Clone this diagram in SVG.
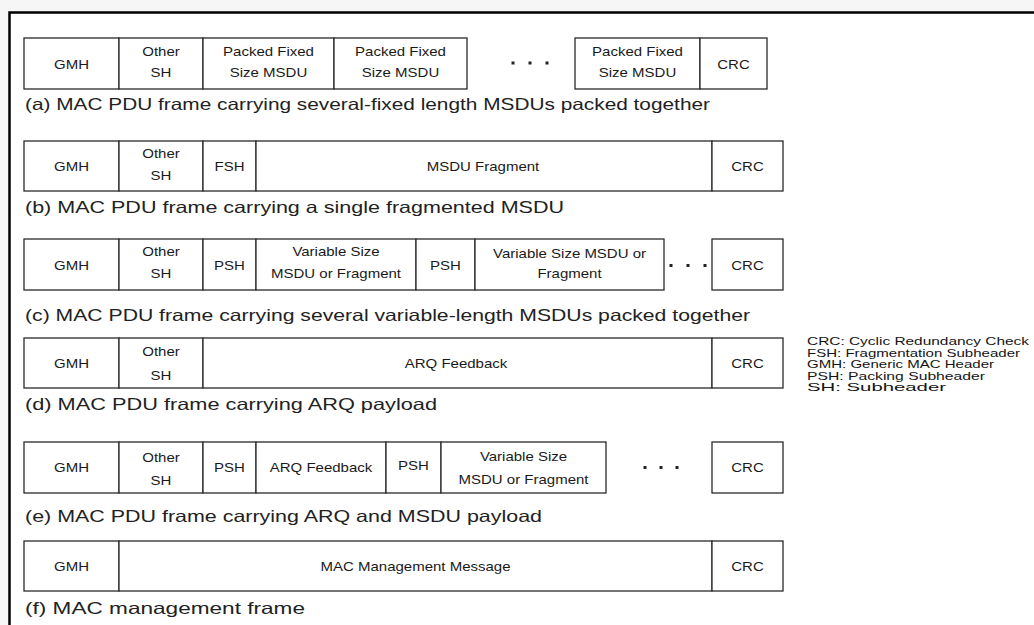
<svg xmlns="http://www.w3.org/2000/svg" width="1034" height="625" viewBox="0 0 1034 625">
  <style>
    .cell { fill: #ffffff; stroke: #2a2a2a; stroke-width: 1.3; }
    .lbl { font-family: "Liberation Sans", Arial, sans-serif; font-size: 12.5px; fill: #1a1a1a; text-anchor: middle; }
    .cap { font-family: "Liberation Sans", Arial, sans-serif; font-size: 16.5px; fill: #222222; }
    .key { font-family: "Liberation Sans", Arial, sans-serif; font-size: 11px; fill: #151515; }
    .dot { fill: #222222; }
  </style>

  <!-- page and frame -->
  <rect x="0" y="0" width="1034" height="625" fill="#f6f6f6"/>
  <rect x="9.5" y="12.5" width="1025" height="613" fill="#ffffff"/>
  <path d="M9.5,625 V12.5 H1034" fill="none" stroke="#000000" stroke-width="2.5"/>

  <!-- (a) fixed-length MSDUs packed together -->
  <g id="frame-a">
    <rect class="cell" x="24" y="38" width="95" height="51"/>
    <rect class="cell" x="119" y="38" width="84" height="51"/>
    <rect class="cell" x="203" y="38" width="131" height="51"/>
    <rect class="cell" x="334" y="38" width="133" height="51"/>
    <rect class="cell" x="575" y="38" width="125" height="51"/>
    <rect class="cell" x="700" y="38" width="67" height="51"/>
    <text class="lbl" transform="translate(71.5,68.5) scale(1.2,1)">GMH</text>
    <text class="lbl" transform="translate(161,55.5) scale(1.2,1)">Other</text>
    <text class="lbl" transform="translate(161,77) scale(1.2,1)">SH</text>
    <text class="lbl" transform="translate(268.5,55.5) scale(1.2,1)">Packed Fixed</text>
    <text class="lbl" transform="translate(268.5,77) scale(1.2,1)">Size MSDU</text>
    <text class="lbl" transform="translate(400.5,55.5) scale(1.2,1)">Packed Fixed</text>
    <text class="lbl" transform="translate(400.5,77) scale(1.2,1)">Size MSDU</text>
    <rect class="dot" x="511.5" y="61.5" width="3" height="3"/>
    <rect class="dot" x="528.5" y="61.5" width="3" height="3"/>
    <rect class="dot" x="545.5" y="61.5" width="3" height="3"/>
    <text class="lbl" transform="translate(637.5,55.5) scale(1.2,1)">Packed Fixed</text>
    <text class="lbl" transform="translate(637.5,77) scale(1.2,1)">Size MSDU</text>
    <text class="lbl" transform="translate(733.5,68.5) scale(1.2,1)">CRC</text>
    <text class="cap" x="25" y="110" textLength="685" lengthAdjust="spacingAndGlyphs">(a) MAC  PDU frame carrying several-fixed length MSDUs packed together</text>
  </g>

  <!-- (b) single fragmented MSDU -->
  <g id="frame-b">
    <rect class="cell" x="24" y="141" width="95" height="50"/>
    <rect class="cell" x="119" y="141" width="84" height="50"/>
    <rect class="cell" x="203" y="141" width="53" height="50"/>
    <rect class="cell" x="256" y="141" width="456" height="50"/>
    <rect class="cell" x="712" y="141" width="71" height="50"/>
    <text class="lbl" transform="translate(71.5,171) scale(1.2,1)">GMH</text>
    <text class="lbl" transform="translate(161,158) scale(1.2,1)">Other</text>
    <text class="lbl" transform="translate(161,180) scale(1.2,1)">SH</text>
    <text class="lbl" transform="translate(229.5,171) scale(1.2,1)">FSH</text>
    <text class="lbl" transform="translate(483,171) scale(1.2,1)">MSDU Fragment</text>
    <text class="lbl" transform="translate(747.5,171) scale(1.2,1)">CRC</text>
    <text class="cap" x="25" y="212.5" textLength="539" lengthAdjust="spacingAndGlyphs">(b) MAC PDU frame carrying a single fragmented MSDU</text>
  </g>

  <!-- (c) variable-length MSDUs packed together -->
  <g id="frame-c">
    <rect class="cell" x="24" y="239" width="95" height="51"/>
    <rect class="cell" x="119" y="239" width="84" height="51"/>
    <rect class="cell" x="203" y="239" width="53" height="51"/>
    <rect class="cell" x="256" y="239" width="160" height="51"/>
    <rect class="cell" x="416" y="239" width="59" height="51"/>
    <rect class="cell" x="475" y="239" width="189" height="51"/>
    <rect class="cell" x="712" y="239" width="71" height="51"/>
    <text class="lbl" transform="translate(71.5,269.5) scale(1.2,1)">GMH</text>
    <text class="lbl" transform="translate(161,256) scale(1.2,1)">Other</text>
    <text class="lbl" transform="translate(161,278) scale(1.2,1)">SH</text>
    <text class="lbl" transform="translate(229.5,269.5) scale(1.2,1)">PSH</text>
    <text class="lbl" transform="translate(336,256) scale(1.2,1)">Variable Size</text>
    <text class="lbl" transform="translate(336,278) scale(1.2,1)">MSDU or Fragment</text>
    <text class="lbl" transform="translate(445.5,269.5) scale(1.2,1)">PSH</text>
    <text class="lbl" transform="translate(569.5,258) scale(1.2,1)">Variable Size MSDU or</text>
    <text class="lbl" transform="translate(569.5,278) scale(1.2,1)">Fragment</text>
    <rect class="dot" x="669.5" y="264" width="3" height="3"/>
    <rect class="dot" x="686.5" y="264" width="3" height="3"/>
    <rect class="dot" x="703.5" y="264" width="3" height="3"/>
    <text class="lbl" transform="translate(747.5,269.5) scale(1.2,1)">CRC</text>
    <text class="cap" x="25" y="321" textLength="725" lengthAdjust="spacingAndGlyphs">(c) MAC PDU frame carrying several variable-length MSDUs packed together</text>
  </g>

  <!-- (d) ARQ payload -->
  <g id="frame-d">
    <rect class="cell" x="24" y="338" width="95" height="50"/>
    <rect class="cell" x="119" y="338" width="84" height="50"/>
    <rect class="cell" x="203" y="338" width="509" height="50"/>
    <rect class="cell" x="712" y="338" width="71" height="50"/>
    <text class="lbl" transform="translate(71.5,368) scale(1.2,1)">GMH</text>
    <text class="lbl" transform="translate(161,356) scale(1.2,1)">Other</text>
    <text class="lbl" transform="translate(161,380) scale(1.2,1)">SH</text>
    <text class="lbl" transform="translate(456,368) scale(1.2,1)">ARQ Feedback</text>
    <text class="lbl" transform="translate(747.5,368) scale(1.2,1)">CRC</text>
    <text class="cap" x="25" y="410" textLength="412" lengthAdjust="spacingAndGlyphs">(d) MAC PDU frame carrying ARQ payload</text>
  </g>

  <!-- (e) ARQ and MSDU payload -->
  <g id="frame-e">
    <rect class="cell" x="24" y="442" width="95" height="51"/>
    <rect class="cell" x="119" y="442" width="84" height="51"/>
    <rect class="cell" x="203" y="442" width="53" height="51"/>
    <rect class="cell" x="256" y="442" width="130" height="51"/>
    <rect class="cell" x="386" y="442" width="55" height="51"/>
    <rect class="cell" x="441" y="442" width="165" height="51"/>
    <rect class="cell" x="712" y="442" width="71" height="51"/>
    <text class="lbl" transform="translate(71.5,472) scale(1.2,1)">GMH</text>
    <text class="lbl" transform="translate(161,462) scale(1.2,1)">Other</text>
    <text class="lbl" transform="translate(161,485) scale(1.2,1)">SH</text>
    <text class="lbl" transform="translate(229.5,472) scale(1.2,1)">PSH</text>
    <text class="lbl" transform="translate(321,472) scale(1.2,1)">ARQ Feedback</text>
    <text class="lbl" transform="translate(413.5,470) scale(1.2,1)">PSH</text>
    <text class="lbl" transform="translate(523.5,461) scale(1.2,1)">Variable Size</text>
    <text class="lbl" transform="translate(523.5,484) scale(1.2,1)">MSDU  or Fragment</text>
    <rect class="dot" x="643.5" y="466" width="3" height="3"/>
    <rect class="dot" x="659.5" y="466" width="3" height="3"/>
    <rect class="dot" x="675.5" y="466" width="3" height="3"/>
    <text class="lbl" transform="translate(747.5,472) scale(1.2,1)">CRC</text>
    <text class="cap" x="25" y="522" textLength="517" lengthAdjust="spacingAndGlyphs">(e) MAC PDU frame carrying ARQ and MSDU payload</text>
  </g>

  <!-- (f) management frame -->
  <g id="frame-f">
    <rect class="cell" x="24" y="541" width="95" height="50"/>
    <rect class="cell" x="119" y="541" width="593" height="50"/>
    <rect class="cell" x="712" y="541" width="71" height="50"/>
    <text class="lbl" transform="translate(71.5,571) scale(1.2,1)">GMH</text>
    <text class="lbl" transform="translate(415.5,571) scale(1.2,1)">MAC Management Message</text>
    <text class="lbl" transform="translate(747.5,571) scale(1.2,1)">CRC</text>
    <text class="cap" x="25" y="614" textLength="280" lengthAdjust="spacingAndGlyphs">(f) MAC management frame</text>
  </g>

  <!-- abbreviations -->
  <g id="legend">
    <text class="key" x="807" y="345" textLength="222" lengthAdjust="spacingAndGlyphs">CRC:  Cyclic Redundancy Check</text>
    <text class="key" x="807" y="356.5" textLength="213" lengthAdjust="spacingAndGlyphs">FSH: Fragmentation Subheader</text>
    <text class="key" x="807" y="368" textLength="187" lengthAdjust="spacingAndGlyphs">GMH: Generic MAC Header</text>
    <text class="key" x="807" y="379.5" textLength="178" lengthAdjust="spacingAndGlyphs">PSH: Packing Subheader</text>
    <text class="key" x="807" y="391" textLength="139" lengthAdjust="spacingAndGlyphs">SH: Subheader</text>
  </g>
</svg>
